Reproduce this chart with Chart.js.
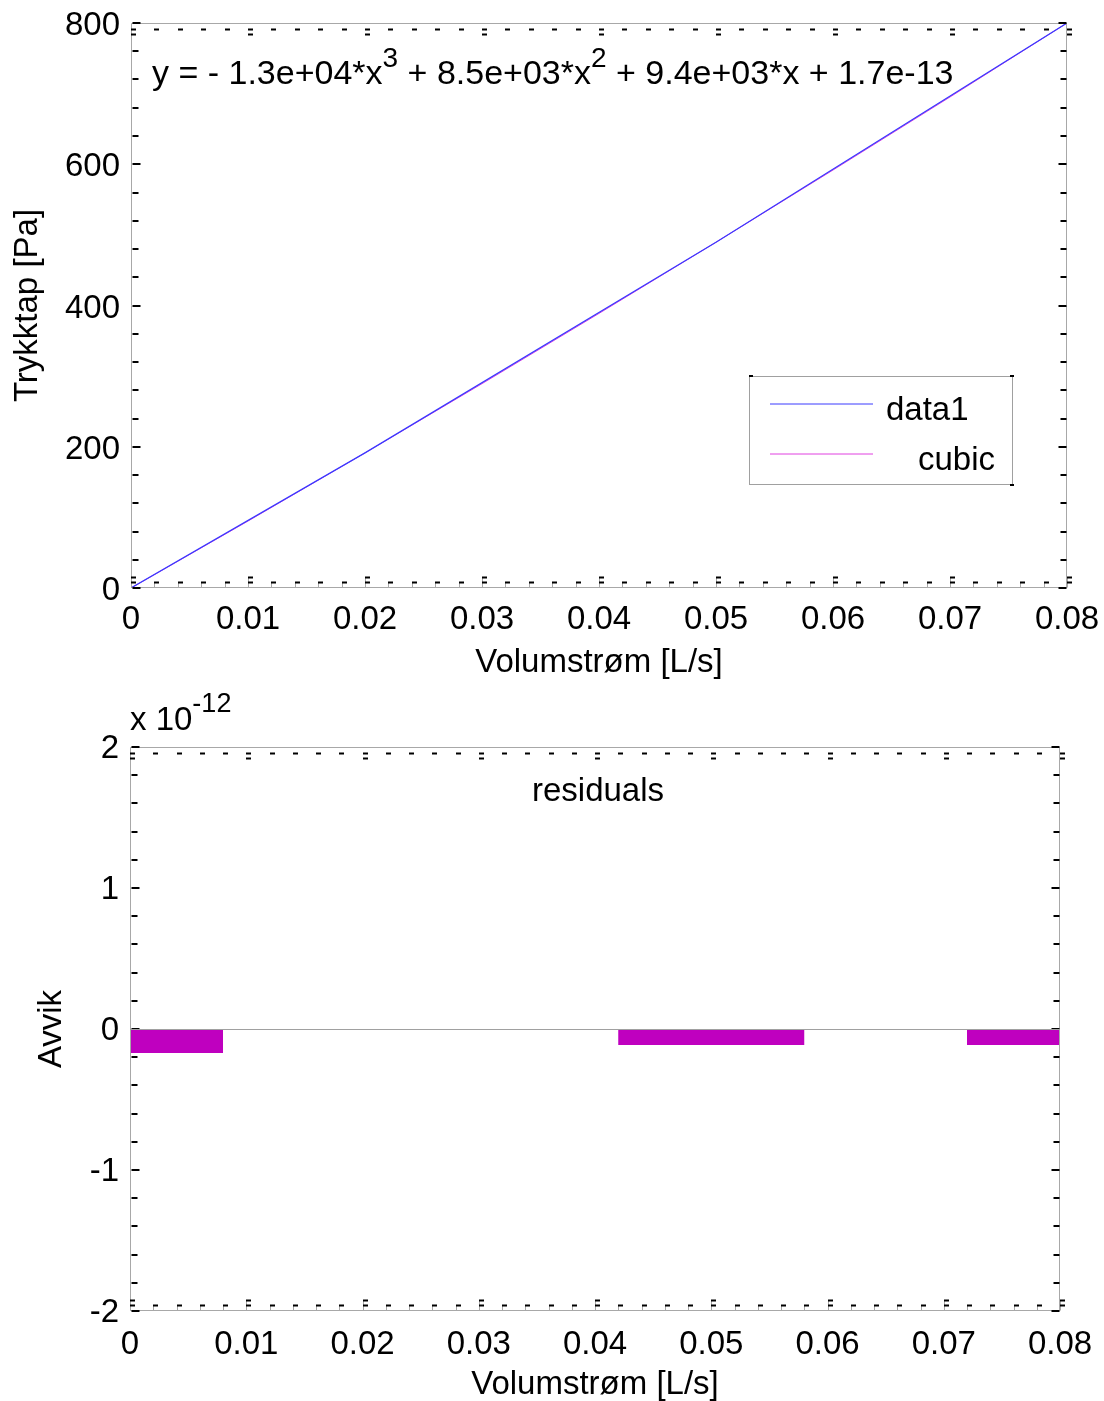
<!DOCTYPE html>
<html><head><meta charset="utf-8">
<script src="https://cdn.jsdelivr.net/npm/chart.js@4/dist/chart.umd.min.js"></script>
<style>
html,body{margin:0;padding:0;background:#fff;}
#w1{position:absolute;left:0;top:0;width:1104px;height:690px;}
#w2{position:absolute;left:0;top:690px;width:1104px;height:711px;}
</style></head><body>
<div id="w1"><canvas id="c1"></canvas></div>
<div id="w2"><canvas id="c2"></canvas></div>
<script>
// ---- data ----
const xTicks = [0, 0.01, 0.02, 0.03, 0.04, 0.05, 0.06, 0.07, 0.08];
const xTickLabels = ['0', '0.01', '0.02', '0.03', '0.04', '0.05', '0.06', '0.07', '0.08'];
const flowX = [0, 0.02, 0.05, 0.08];
const data1Y = [0, 191.3, 489.6, 800];
const cubicX = [0, 0.01, 0.02, 0.03, 0.04, 0.05, 0.06, 0.07, 0.08];
const cubicY = [0, 94.8, 191.3, 289.3, 388.8, 489.6, 591.8, 695.2, 800];
const topYTicks = [0, 200, 400, 600, 800];
const residuals = [-1.7e-13, 0, -1.14e-13, -1.14e-13];
const resYTickLabels = [-2, -1, 0, 1, 2];
const resExponent = -12;
const seriesLabels = ['data1', 'cubic'];
const equationParts = [
  {t: 'y = - 1.3e+04*x'}, {t: '3', sup: true},
  {t: ' + 8.5e+03*x'}, {t: '2', sup: true},
  {t: ' + 9.4e+03*x + 1.7e-13'}
];

// ---- style ----
const FONT = 'Liberation Sans, Arial, sans-serif';
const FS = 33;
const SUP = 27;
Chart.defaults.color = '#000';
Chart.defaults.font.family = FONT;

function drawRich(ctx, parts, x, base, size, supSize, supRaise) {
  let cx = x;
  for (const p of parts) {
    ctx.font = (p.sup ? supSize : size) + 'px ' + FONT;
    ctx.fillText(p.t, cx, p.sup ? base - supRaise : base);
    cx += ctx.measureText(p.t).width;
  }
}

function minorVals(major) {
  const out = [];
  for (let i = 0; i < major.length - 1; i++) {
    for (let k = 1; k < 5; k++) out.push(major[i] + k * (major[i + 1] - major[i]) / 5);
  }
  return out;
}

function noPad(s) { s.paddingLeft = 0; s.paddingRight = 0; s.paddingTop = 0; s.paddingBottom = 0; }

function edgeTicks(xMajor, yMajor) {
  return {
    id: 'edgeTicks',
    afterDatasetsDraw(chart) {
      const {ctx, chartArea: a, scales: {x, y}} = chart;
      ctx.save();
      ctx.strokeStyle = '#a8a8a8';
      ctx.lineWidth = 1;
      const L = Math.round(a.left) + 0.5, T = Math.round(a.top) + 0.5;
      const R = Math.round(a.right) - 0.5, B = Math.round(a.bottom) - 0.5;
      ctx.beginPath();
      ctx.moveTo(L, T); ctx.lineTo(R, T); ctx.lineTo(R, B); ctx.lineTo(L, B); ctx.closePath();
      ctx.stroke();
      ctx.fillStyle = '#000';
      const xm = minorVals(xMajor), ym = minorVals(yMajor);
      for (const v of xm) {
        const px = Math.round(x.getPixelForValue(v));
        ctx.fillStyle = '#a8a8a8'; ctx.fillRect(px, B - 5, 1, 5);
        ctx.fillStyle = '#000';
        ctx.fillRect(px, B - 6, 5, 2);
        ctx.fillRect(px, T + 5, 5, 2);
      }
      for (const v of xMajor) {
        const px = Math.round(x.getPixelForValue(v));
        ctx.fillStyle = '#a8a8a8'; ctx.fillRect(px, B - 10, 1, 10);
        ctx.fillStyle = '#000';
        ctx.fillRect(px, B - 6, 5, 2); ctx.fillRect(px, B - 11, 5, 2);
        ctx.fillRect(px, T + 5, 5, 2); ctx.fillRect(px, T + 10, 5, 2);
      }
      for (const v of ym) {
        const py = Math.round(y.getPixelForValue(v));
        ctx.fillRect(L + 1, py - 1, 6, 2);
        ctx.fillRect(R - 6, py - 1, 6, 2);
      }
      for (const v of yMajor) {
        const py = Math.round(y.getPixelForValue(v));
        ctx.fillRect(L + 1, py - 1, 8, 2);
        ctx.fillRect(R - 8, py - 1, 8, 2);
      }
      ctx.restore();
    }
  };
}

const topDecor = {
  id: 'topDecor',
  afterDatasetsDraw(chart) {
    const {ctx} = chart;
    ctx.save();
    ctx.fillStyle = '#000';
    ctx.textBaseline = 'alphabetic';
    ctx.textAlign = 'left';
    drawRich(ctx, equationParts, 152, 84, 34, 28, 17);
    // legend
    ctx.fillStyle = '#fff';
    ctx.fillRect(749, 376, 264, 109);
    ctx.strokeStyle = '#a0a0a0';
    ctx.lineWidth = 1;
    ctx.strokeRect(749.5, 376.5, 263, 108);
    ctx.fillStyle = '#000';
    ctx.fillRect(749, 375, 4, 2);
    ctx.fillRect(1010, 375, 4, 2);
    ctx.fillRect(1010, 484, 4, 2);
    const ds = chart.data.datasets;
    const rows = [{y: 404, tx: 886}, {y: 454, tx: 918}];
    rows.forEach((r, i) => {
      ctx.strokeStyle = ds[i].borderColor;
      ctx.lineWidth = 1;
      ctx.beginPath(); ctx.moveTo(770, r.y); ctx.lineTo(873, r.y); ctx.stroke();
      ctx.font = FS + 'px ' + FONT;
      ctx.fillText(seriesLabels[i], r.tx, r.y + 16);
    });
    ctx.restore();
  }
};

new Chart(document.getElementById('c1'), {
  type: 'line',
  data: {
    datasets: [
      {label: seriesLabels[0], data: flowX.map((v, i) => ({x: v, y: data1Y[i]})),
       borderColor: '#3a3aff', borderWidth: 1.2, pointRadius: 0, tension: 0, fill: false},
      {label: seriesLabels[1], data: cubicX.map((v, i) => ({x: v, y: cubicY[i]})),
       borderColor: '#e040e0', borderWidth: 1, pointRadius: 0, tension: 0, fill: false}
    ]
  },
  options: {
    responsive: true, maintainAspectRatio: false, animation: false,
    layout: {padding: {top: 23, right: 37, left: 0, bottom: 0}},
    plugins: {legend: {display: false}, tooltip: {enabled: false}},
    scales: {
      x: {
        type: 'linear', min: 0, max: 0.08,
        afterBuildTicks: s => { s.ticks = xTicks.map(v => ({value: v})); },
        afterFit: s => { s.height = 102; noPad(s); },
        ticks: {font: {size: FS}, padding: 12, maxRotation: 0, autoSkip: false,
                callback: (v, i) => xTickLabels[i]},
        grid: {display: false, drawTicks: false},
        border: {display: false},
        title: {display: true, text: 'Volumstrøm [L/s]', font: {size: FS}, padding: {top: 0, bottom: 7}}
      },
      y: {
        type: 'linear', min: 0, max: 800,
        afterBuildTicks: s => { s.ticks = topYTicks.map(v => ({value: v})); },
        afterFit: s => { s.width = 131; noPad(s); },
        ticks: {font: {size: FS}, padding: 11, labelOffset: 3, callback: v => String(v)},
        grid: {display: false, drawTicks: false},
        border: {display: false},
        title: {display: true, text: 'Trykktap [Pa]', font: {size: FS}, padding: {top: 8, bottom: 0}}
      }
    }
  },
  plugins: [edgeTicks(xTicks, topYTicks), topDecor]
});

const resYTicks = resYTickLabels.map(v => v * Math.pow(10, resExponent));

const bottomDecor = {
  id: 'bottomDecor',
  afterDatasetsDraw(chart) {
    const {ctx, chartArea: a, scales: {y}} = chart;
    ctx.save();
    const py = Math.round(y.getPixelForValue(0)) + 0.5;
    ctx.strokeStyle = '#a0a0a0'; ctx.lineWidth = 1;
    ctx.beginPath(); ctx.moveTo(a.left, py); ctx.lineTo(a.right, py); ctx.stroke();
    ctx.fillStyle = '#000';
    ctx.textAlign = 'center';
    ctx.font = FS + 'px ' + FONT;
    ctx.fillText('residuals', 598, 111);
    ctx.textAlign = 'left';
    drawRich(ctx, [{t: 'x 10'}, {t: String(resExponent), sup: true}], 130, 40, FS, SUP, 18);
    ctx.restore();
  }
};

new Chart(document.getElementById('c2'), {
  type: 'bar',
  data: {
    datasets: [
      {label: 'residuals', data: flowX.map((v, i) => ({x: v, y: residuals[i]})),
       backgroundColor: '#bf00bf', borderWidth: 0, barPercentage: 1, categoryPercentage: 1.6, clip: 0}
    ]
  },
  options: {
    responsive: true, maintainAspectRatio: false, animation: false,
    layout: {padding: {top: 57, right: 44, left: 0, bottom: 0}},
    plugins: {legend: {display: false}, tooltip: {enabled: false}},
    scales: {
      x: {
        type: 'linear', min: 0, max: 0.08, offset: false,
        afterBuildTicks: s => { s.ticks = xTicks.map(v => ({value: v})); },
        afterFit: s => { s.height = 90; noPad(s); },
        ticks: {font: {size: FS}, padding: 14, maxRotation: 0, autoSkip: false,
                callback: (v, i) => xTickLabels[i]},
        grid: {display: false, drawTicks: false, offset: false},
        border: {display: false},
        title: {display: true, text: 'Volumstrøm [L/s]', font: {size: FS, lineHeight: 1}, padding: {top: 0, bottom: 0}}
      },
      y: {
        type: 'linear', min: resYTicks[0], max: resYTicks[resYTicks.length - 1],
        afterBuildTicks: s => { s.ticks = resYTicks.map(v => ({value: v})); },
        afterFit: s => { s.width = 130; noPad(s); },
        ticks: {font: {size: FS}, padding: 11, labelOffset: 2,
                callback: (v, i) => String(resYTickLabels[i])},
        grid: {display: false, drawTicks: false},
        border: {display: false},
        title: {display: true, text: 'Avvik', font: {size: FS}, padding: {top: 32, bottom: 0}}
      }
    }
  },
  plugins: [edgeTicks(xTicks, resYTicks), bottomDecor]
});
</script>
</body></html>
